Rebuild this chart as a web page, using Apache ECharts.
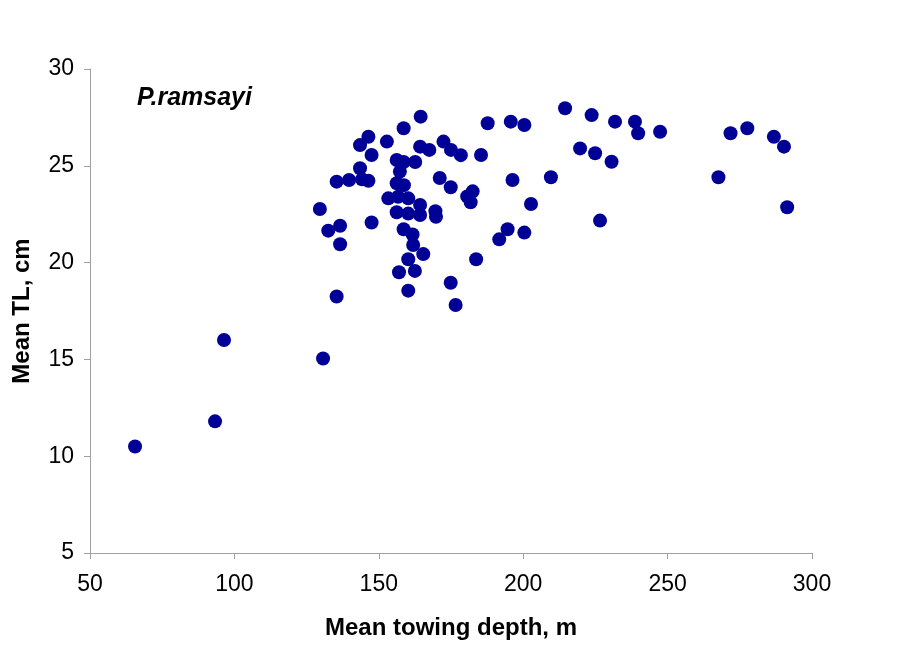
<!DOCTYPE html>
<html>
<head>
<meta charset="utf-8">
<script src="https://cdn.jsdelivr.net/npm/echarts@6/dist/echarts.min.js"></script>
<style>
  html, body { margin: 0; padding: 0; background: #ffffff; }
  #chart { width: 917px; height: 646px; }
</style>
</head>
<body>
<div id="chart"></div>
<script>
// Mean towing depth (m) of each haul group
const depth = [
  65.6, 93.3, 96.4, 130.7, 135.4, 129.6, 132.5, 136.6, 136.6, 135.4,
  139.7, 144.2, 146.4, 143.5, 147.5, 143.5, 146.4, 152.8, 158.6, 164.5,
  164.3, 167.5, 172.4, 175.0, 178.4, 185.4, 187.7, 195.7, 200.4, 214.5,
  223.7, 231.8, 238.7, 239.8, 247.4, 271.8, 277.6, 286.8, 290.3, 219.7,
  224.9, 230.6, 196.3, 209.6, 267.6, 202.7, 226.6, 291.4, 194.6, 191.7,
  200.4, 156.2, 158.6, 162.6, 157.3, 156.2, 158.7, 153.3, 156.7, 160.2,
  171.1, 174.9, 182.5, 180.6, 181.8, 164.3, 164.3, 169.6, 169.8, 147.5,
  156.2, 160.2, 158.6, 161.7, 161.9, 165.4, 160.2, 157.0, 162.5, 160.2,
  174.9, 176.6, 183.7
];
// Mean total length (cm) for the same hauls
const meanTL = [
  10.5, 11.8, 16.0, 15.05, 18.25, 22.77, 21.65, 21.9, 20.95, 24.18,
  24.27, 24.3, 24.23, 24.87, 25.56, 26.07, 26.5, 26.25, 26.94, 27.54,
  25.99, 25.82, 26.25, 25.82, 25.55, 25.56, 27.2, 27.28, 27.11, 27.97,
  27.62, 27.28, 27.28, 26.68, 26.76, 26.68, 26.94, 26.5, 25.99, 25.9,
  25.65, 25.21, 24.27, 24.41, 24.41, 23.03, 22.17, 22.86, 21.72, 21.2,
  21.55, 25.3, 25.2, 25.2, 24.7, 24.1, 24.0, 23.32, 23.4, 23.32,
  24.37, 23.89, 23.68, 23.42, 23.12, 22.98, 22.46, 22.65, 22.37, 22.07,
  22.6, 22.53, 21.72, 21.45, 20.91, 20.44, 20.17, 19.5, 19.57, 18.55,
  18.96, 17.81, 20.17
];
const xTicks = [50, 100, 150, 200, 250, 300];
const yTicks = [5, 10, 15, 20, 25, 30];
const speciesName = 'P.ramsayi';
const xAxisName = 'Mean towing depth, m';
const yAxisName = 'Mean TL, cm';

const points = depth.map((d, i) => [d, meanTL[i]]);
const font = '"Liberation Sans", Arial, sans-serif';
const axisGrey = '#a0a0a0';

const chart = echarts.init(document.getElementById('chart'), null, { renderer: 'canvas' });
chart.setOption({
  backgroundColor: '#ffffff',
  animation: false,
  title: {
    text: speciesName,
    left: 132,
    top: 81,
    textStyle: { fontFamily: font, fontSize: 25, fontWeight: 'bold', fontStyle: 'italic', color: '#000000' }
  },
  grid: { left: 90, right: 105, top: 69, bottom: 93, containLabel: false, outerBoundsMode: 'none' },
  xAxis: {
    type: 'value',
    min: xTicks[0],
    max: xTicks[xTicks.length - 1],
    interval: 50,
    name: xAxisName,
    nameLocation: 'middle',
    nameGap: 63,
    nameTextStyle: { fontFamily: font, fontSize: 24, fontWeight: 'bold', color: '#000000' },
    axisLine: { show: true, lineStyle: { color: axisGrey, width: 1 } },
    axisTick: { show: true, length: 6, lineStyle: { color: axisGrey } },
    axisLabel: { fontFamily: font, fontSize: 23, color: '#000000', margin: 20 },
    splitLine: { show: false }
  },
  yAxis: {
    type: 'value',
    min: yTicks[0],
    max: yTicks[yTicks.length - 1],
    interval: 5,
    name: yAxisName,
    nameLocation: 'middle',
    nameGap: 56,
    nameTextStyle: { fontFamily: font, fontSize: 24, fontWeight: 'bold', color: '#000000' },
    axisLine: { show: true, lineStyle: { color: axisGrey, width: 1 } },
    axisTick: { show: true, length: 6, lineStyle: { color: axisGrey } },
    axisLabel: { fontFamily: font, fontSize: 23, color: '#000000', margin: 16 },
    splitLine: { show: false }
  },
  series: [{
    type: 'scatter',
    data: points,
    symbol: 'circle',
    symbolSize: 14,
    itemStyle: { color: '#000096', opacity: 1 }
  }]
});
</script>
</body>
</html>
